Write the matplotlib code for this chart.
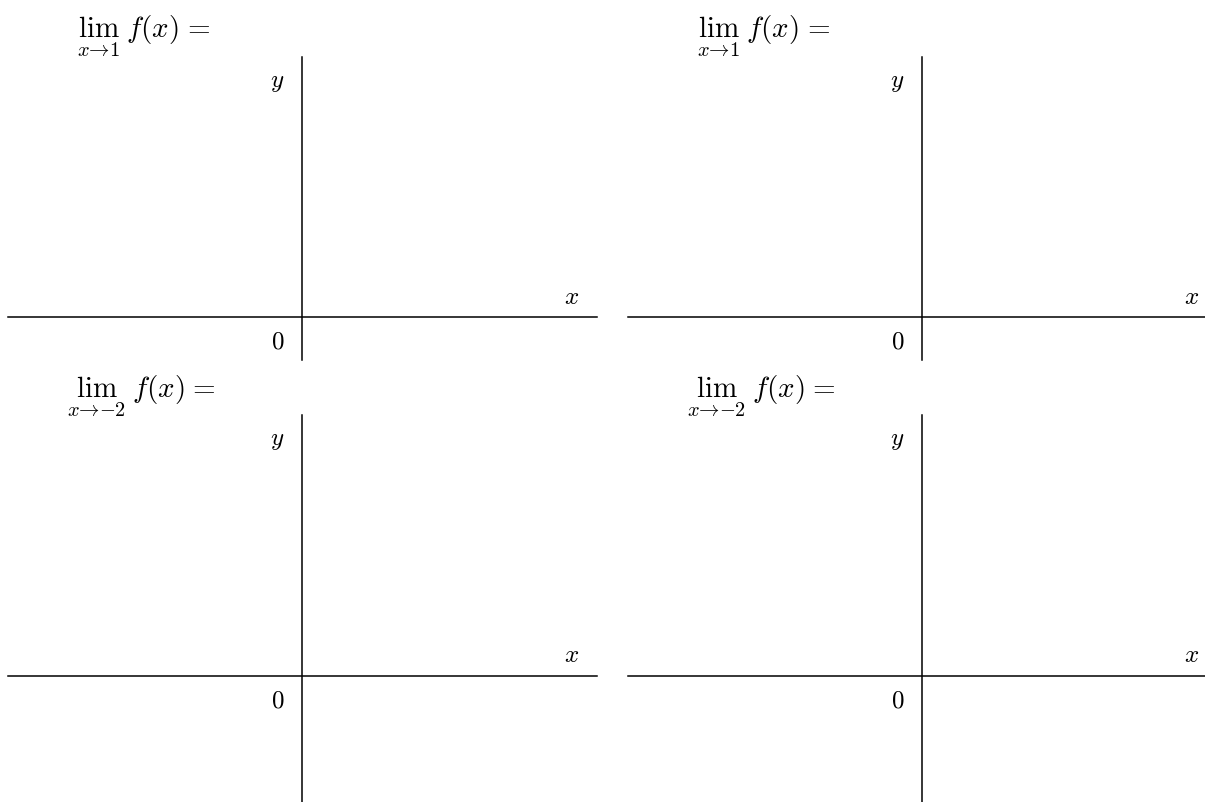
import matplotlib
matplotlib.use("Agg")
import matplotlib.pyplot as plt

plt.rcParams['mathtext.fontset'] = 'cm'
plt.rcParams['font.family'] = 'serif'
plt.rcParams['font.serif'] = ['DejaVu Serif']

W, H = 1205, 802

# Panel titles (limit expressions)
titles = [r"$\lim_{x\to 1}\;f(x)\;=$", r"$\lim_{x\to 1}\;f(x)\;=$",
          r"$\lim_{x\to -2}\;f(x)\;=$", r"$\lim_{x\to -2}\;f(x)\;=$"]
# Axis extents in pixels: (left, right, top, bottom) and origin (x0, y0)
panel_left = [8, 628, 8, 628]
panel_right = [597, 1205, 597, 1205]
panel_top = [57, 57, 415, 415]
panel_bottom = [360, 360, 802, 802]
origin_x = [301.5, 921.5, 301.5, 921.5]
origin_y = [317, 317, 676, 676]
title_x = [77, 697, 67, 687]
title_top = [13, 13, 373, 373]
axis_labels = ["x", "y", "0"]

fig = plt.figure(figsize=(W / 100, H / 100), dpi=100)
fig.patch.set_facecolor('white')

for i in range(4):
    L, R, T, B = panel_left[i], panel_right[i], panel_top[i], panel_bottom[i]
    x0, y0 = origin_x[i], origin_y[i]
    ax = fig.add_axes([L / W, 1 - B / H, (R - L) / W, (B - T) / H])
    ax.set_xlim(L - x0, R - x0)
    ax.set_ylim(-(B - y0), y0 - T)
    ax.patch.set_visible(False)
    for s in ['top', 'right']:
        ax.spines[s].set_visible(False)
    ax.spines['left'].set_position(('data', 0))
    ax.spines['bottom'].set_position(('data', 0))
    for s in ['left', 'bottom']:
        ax.spines[s].set_linewidth(1.1)
        ax.spines[s].set_color('black')
    ax.set_xticks([])
    ax.set_yticks([])
    ax.text(270.5, 20, "$" + axis_labels[0] + "$", fontsize=18, ha='center', va='center')
    ax.text(-24, 235, "$" + axis_labels[1] + "$", fontsize=18, ha='center', va='center')
    ax.text(-24, -25, "$" + axis_labels[2] + "$", fontsize=18, ha='center', va='center')
    fig.text(title_x[i] / W, 1 - title_top[i] / H, titles[i], fontsize=21,
             ha='left', va='top')

fig.savefig("out.png", dpi=100)
